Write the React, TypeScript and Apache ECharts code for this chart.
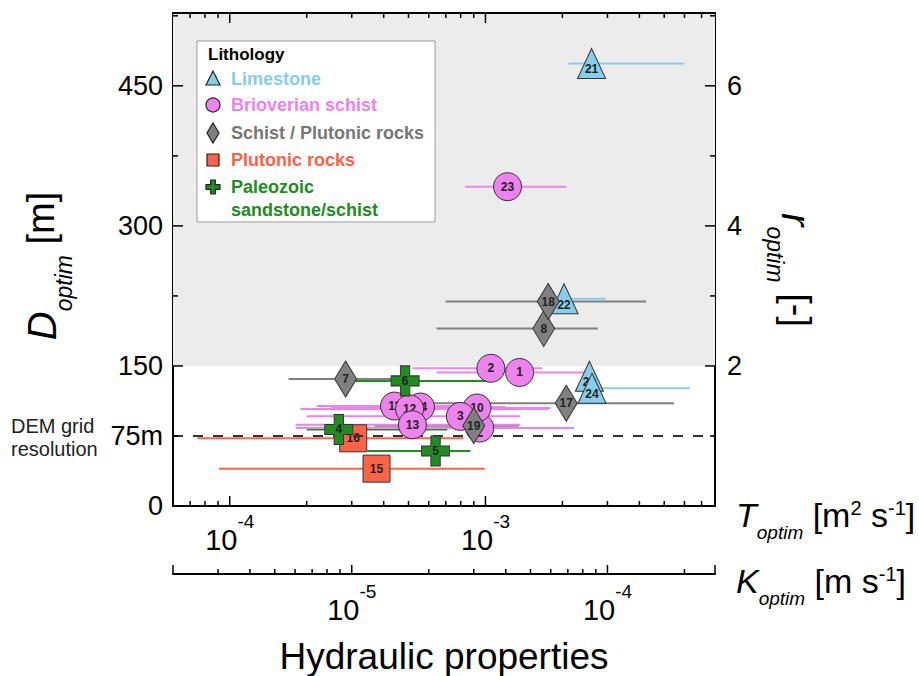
import React, { useEffect, useRef } from 'react';
import * as echarts from 'echarts';

const FONT = "'Liberation Sans', Arial, sans-serif";

// ---------- Data (T_optim [m2/s], D_optim [m], T error range) ----------
// Limestone (triangles)
const limeIds = ['20', '24', '21', '22'];
const limeT = [2.55e-3, 2.61e-3, 2.6e-3, 2.03e-3];
const limeD = [139, 126, 474, 222];
const limeLo = [2.45e-3, 2.25e-3, 2.11e-3, 1.6e-3];
const limeHi = [2.65e-3, 6.3e-3, 5.98e-3, 2.96e-3];

// Brioverian schist (circles)
const brioIds = ['9', '10', '11', '14', '3', '12', '13', '1', '2', '23'];
const brioT = [9.5e-4, 9.27e-4, 4.41e-4, 5.57e-4, 7.98e-4, 5.05e-4, 5.18e-4, 1.36e-3, 1.05e-3, 1.22e-3];
const brioD = [83.5, 105, 107, 106, 96, 104, 87, 143, 147.5, 342];
const brioLo = [1.81e-4, 2.6e-4, 2.19e-4, 2.48e-4, 2.0e-4, 1.89e-4, 1.81e-4, 6.44e-4, 5.18e-4, 8.32e-4];
const brioHi = [2.22e-3, 1.8e-3, 8.7e-4, 1.2e-3, 1.37e-3, 1.76e-3, 1.37e-3, 2.62e-3, 1.67e-3, 2.07e-3];

// Schist / Plutonic rocks (diamonds)
const schIds = ['7', '8', '17', '18', '19'];
const schT = [2.84e-4, 1.69e-3, 2.07e-3, 1.76e-3, 9.0e-4];
const schD = [136, 190, 110, 219, 86];
const schLo = [1.7e-4, 6.44e-4, 5.4e-4, 6.98e-4, 3.67e-4];
const schHi = [4.66e-4, 2.75e-3, 5.46e-3, 4.25e-3, 1.35e-3];

// Plutonic rocks (squares)
const plutIds = ['16', '15'];
const plutT = [3.04e-4, 3.75e-4];
const plutD = [72.5, 40];
const plutLo = [7.49e-5, 9.08e-5];
const plutHi = [8.2e-4, 9.93e-4];

// Paleozoic sandstone/schist (plus)
const paleoIds = ['4', '5', '6'];
const paleoT = [2.67e-4, 6.38e-4, 4.85e-4];
const paleoD = [82, 59, 134];
const paleoLo = [2.0e-4, 3.45e-4, 2.97e-4];
const paleoHi = [7.1e-4, 8.73e-4, 1.09e-3];

// ---------- Axes ----------
const T_MIN = 6e-5;
const T_MAX = 7.9e-3;
const THICKNESS = 30; // K = T / 30
const K_MIN = T_MIN / THICKNESS;
const K_MAX = T_MAX / THICKNESS;
const D_MAX = 528;
const R_SCALE = 75; // r = D / 75
const DEM_RES = 75;
const SHADE_FROM = 150;

const tMajorTicks = [1e-4, 1e-3];
const tMinorTicks = [7e-5, 8e-5, 9e-5, 2e-4, 3e-4, 4e-4, 5e-4, 6e-4, 7e-4, 8e-4, 9e-4, 2e-3, 3e-3, 4e-3, 5e-3, 6e-3, 7e-3];
const kMajorTicks = [K_MIN, 1e-5, 1e-4, K_MAX];
const kMinorTicks = [3e-6, 4e-6, 5e-6, 6e-6, 7e-6, 8e-6, 9e-6, 2e-5, 3e-5, 4e-5, 5e-5, 6e-5, 7e-5, 8e-5, 9e-5, 2e-4];
const dMajorTicks = [0, 150, 300, 450];
const dMinorTicks = [75, 225, 375, 525];
const rMajorTicks = [2, 4, 6];
const rMinorTicks = [1, 3, 5, 7];

const MAJOR = 10;
const MINOR = 5;
const K_OFFSET = 68;

const COL = {
  lime: '#87ceeb',
  brio: '#ee82ee',
  sch: '#808080',
  plut: '#ff6347',
  paleo: '#228b22',
};

const PLUS = 'path://M1,0H2V1H3V2H2V3H1V2H0V1H1Z';

const tickStyle = { stroke: '#000', lineWidth: 1.5 };

function errSeries(color: string, lo: number[], hi: number[], d: number[]) {
  return {
    type: 'custom',
    silent: true,
    z: 2,
    encode: { x: [0, 1], y: 2 },
    data: lo.map((l, i) => [l, hi[i], d[i]]),
    renderItem: (params: any, api: any) => {
      const a = api.coord([api.value(0), api.value(2)]);
      const b = api.coord([api.value(1), api.value(2)]);
      return {
        type: 'line',
        shape: { x1: a[0], y1: a[1], x2: b[0], y2: b[1] },
        style: { stroke: color, lineWidth: 2 },
      };
    },
  };
}

// markers drawn in layers (from index `from` to `to`) so that overlaps match
function markerSeries(
  ids: string[], t: number[], d: number[], from: number, to: number, z: number,
  color: string, symbol: string, size: number | number[], labelOffset: number[] = [0, 0]
) {
  return {
    type: 'scatter',
    silent: true,
    z,
    symbol,
    symbolSize: size,
    itemStyle: { color, borderColor: '#333', borderWidth: 1, opacity: 1 },
    emphasis: { disabled: true },
    label: {
      show: true,
      position: 'inside',
      offset: labelOffset,
      formatter: '{b}',
      color: '#222',
      fontSize: 12,
      fontWeight: 'bold',
      fontFamily: FONT,
    },
    data: ids.slice(from, to).map((id, i) => ({ name: id, value: [t[from + i], d[from + i]] })),
  };
}

const tTickData = [
  ...tMajorTicks.map((v) => [v, 0, MAJOR]),
  ...tMinorTicks.map((v) => [v, 0, MINOR]),
];
const kTickData = [
  ...kMajorTicks.map((v) => [v, 0, MAJOR - 1]),
  ...kMinorTicks.map((v) => [v, 0, MINOR]),
];
const dTickData = [
  ...dMajorTicks.map((v) => [T_MIN, v, MAJOR]),
  ...dMinorTicks.map((v) => [T_MIN, v, MINOR]),
];
const rTickData = [
  ...rMajorTicks.map((v) => [T_MIN, v, MAJOR]),
  ...rMinorTicks.map((v) => [T_MIN, v, MINOR]),
];

const expFormatter = (v: number) => {
  const e = Math.log10(v);
  const r = Math.round(e);
  return Math.abs(e - r) < 1e-6 ? `{base|10}{sup|${r}}` : '';
};

const expRich = {
  base: { fontSize: 29, lineHeight: 29, padding: [13, 0, 0, 0], verticalAlign: 'top', color: '#000', fontFamily: FONT },
  sup: { fontSize: 19, lineHeight: 19, verticalAlign: 'top', color: '#000', fontFamily: FONT },
};

const hRich = {
  i: { fontSize: 34, lineHeight: 38, fontStyle: 'italic', verticalAlign: 'top', fill: '#000', fontFamily: FONT },
  n: { fontSize: 34, lineHeight: 38, verticalAlign: 'top', fill: '#000', fontFamily: FONT },
  s: { fontSize: 19, lineHeight: 19, padding: [25, 0, 0, 0], fontStyle: 'italic', verticalAlign: 'top', fill: '#000', fontFamily: FONT },
  p: { fontSize: 20, lineHeight: 20, verticalAlign: 'top', fill: '#000', fontFamily: FONT },
};

const vRich = {
  i: { fontSize: 40, lineHeight: 44, fontStyle: 'italic', verticalAlign: 'top', fill: '#000', fontFamily: FONT },
  n: { fontSize: 38, lineHeight: 44, verticalAlign: 'top', fill: '#000', fontFamily: FONT },
  s: { fontSize: 23, lineHeight: 23, padding: [30, 0, 0, 0], fontStyle: 'italic', verticalAlign: 'top', fill: '#000', fontFamily: FONT },
};

function legendGraphics() {
  const x0 = 197, y0 = 41;
  const ix = 213, tx = 231;
  const Z = 50;
  const txt = (y: number, text: string, color: string) => ({
    type: 'text', x: tx, y, z: Z + 1, silent: true,
    style: { text, fill: color, font: `bold 18px ${FONT}`, verticalAlign: 'middle', align: 'left' },
  });
  const stroke = { stroke: '#222', lineWidth: 1.2 };
  return [
    { type: 'rect', z: Z, silent: true, shape: { x: x0, y: y0, width: 238, height: 181 }, style: { fill: '#fff', stroke: '#999', lineWidth: 1 } },
    { type: 'text', z: Z + 1, silent: true, x: 208, y: 54, style: { text: 'Lithology', fill: '#000', font: `bold 17px ${FONT}`, verticalAlign: 'middle', align: 'left' } },
    { type: 'polygon', z: Z + 1, silent: true, shape: { points: [[ix, 71], [ix + 7, 85], [ix - 7, 85]] }, style: { fill: COL.lime, ...stroke } },
    txt(79, 'Limestone', COL.lime),
    { type: 'circle', z: Z + 1, silent: true, shape: { cx: ix, cy: 105, r: 7 }, style: { fill: COL.brio, ...stroke } },
    txt(105, 'Brioverian schist', COL.brio),
    { type: 'polygon', z: Z + 1, silent: true, shape: { points: [[ix, 123], [ix + 6, 133], [ix, 143], [ix - 6, 133]] }, style: { fill: COL.sch, ...stroke } },
    txt(133, 'Schist / Plutonic rocks', '#777'),
    { type: 'rect', z: Z + 1, silent: true, shape: { x: ix - 6, y: 154, width: 12, height: 12 }, style: { fill: COL.plut, ...stroke } },
    txt(160, 'Plutonic rocks', COL.plut),
    { type: 'polygon', z: Z + 1, silent: true, shape: { points: [
      [ix - 2.3, 180], [ix + 2.3, 180], [ix + 2.3, 184.7], [ix + 7, 184.7], [ix + 7, 189.3], [ix + 2.3, 189.3],
      [ix + 2.3, 194], [ix - 2.3, 194], [ix - 2.3, 189.3], [ix - 7, 189.3], [ix - 7, 184.7], [ix - 2.3, 184.7],
    ] }, style: { fill: COL.paleo, ...stroke } },
    txt(187, 'Paleozoic', COL.paleo),
    txt(210, 'sandstone/schist', COL.paleo),
  ];
}

export default function App() {
  const ref = useRef<HTMLDivElement>(null);
  useEffect(() => {
    document.body.style.margin = '0';
    const chart = echarts.init(ref.current!, null, { renderer: 'svg' });
    const option: any = {
      animation: false,
      textStyle: { fontFamily: FONT },
      grid: { left: 173, top: 13, right: 204, bottom: 170, show: false },
      xAxis: [
        {
          type: 'log', logBase: 10, min: T_MIN, max: T_MAX, position: 'bottom',
          axisLine: { show: true, onZero: false, lineStyle: { color: '#000', width: 2 } },
          axisTick: { show: false }, splitLine: { show: false }, minorTick: { show: false },
          axisLabel: { interval: 0, margin: 6, fontSize: 29, color: '#000', formatter: expFormatter, rich: expRich, showMinLabel: false, showMaxLabel: false },
        },
        {
          type: 'log', logBase: 10, min: K_MIN, max: K_MAX, position: 'bottom', offset: K_OFFSET,
          axisLine: { show: true, onZero: false, lineStyle: { color: '#000', width: 2 } },
          axisTick: { show: false }, splitLine: { show: false },
          axisLabel: { interval: 0, margin: 8, fontSize: 29, color: '#000', formatter: expFormatter, rich: expRich, showMinLabel: false, showMaxLabel: false },
        },
      ],
      yAxis: [
        {
          type: 'value', min: 0, max: D_MAX, interval: 75, position: 'left',
          axisLine: { show: true, onZero: false, lineStyle: { color: '#000', width: 2 } },
          axisTick: { show: false }, splitLine: { show: false },
          axisLabel: {
            margin: 10, color: '#000', fontSize: 27, fontFamily: FONT, showMaxLabel: false,
            formatter: (v: number) => (v === 0 ? '0' : v === DEM_RES ? '75m' : v % 150 === 0 ? String(v) : ''),
          },
        },
        {
          type: 'value', min: 0, max: D_MAX / R_SCALE, interval: 1, position: 'right',
          axisLine: { show: true, onZero: false, lineStyle: { color: '#000', width: 2 } },
          axisTick: { show: false }, splitLine: { show: false },
          axisLabel: {
            margin: 12, color: '#000', fontSize: 27, fontFamily: FONT, showMaxLabel: false,
            formatter: (v: number) => (rMajorTicks.includes(v) ? String(v) : ''),
          },
        },
      ],
      series: [
        {
          type: 'scatter', data: [], silent: true, z: 0,
          markArea: {
            silent: true,
            itemStyle: { color: '#ececec' },
            data: [[{ yAxis: SHADE_FROM }, { yAxis: D_MAX }]],
          },
          markLine: {
            silent: true, symbol: ['none', 'none'], label: { show: false },
            lineStyle: { color: '#333', width: 2, type: [10, 10] },
            data: [{ yAxis: DEM_RES }],
          },
        },
        errSeries(COL.plut, plutLo, plutHi, plutD),
        errSeries(COL.paleo, paleoLo, paleoHi, paleoD),
        errSeries(COL.sch, schLo, schHi, schD),
        errSeries(COL.brio, brioLo, brioHi, brioD),
        errSeries(COL.lime, limeLo, limeHi, limeD),
        markerSeries(plutIds, plutT, plutD, 0, plutIds.length, 3, COL.plut, 'rect', 27),
        markerSeries(brioIds, brioT, brioD, 0, 4, 4, COL.brio, 'circle', 28),
        markerSeries(brioIds, brioT, brioD, 4, 6, 5, COL.brio, 'circle', 28),
        markerSeries(brioIds, brioT, brioD, 6, brioIds.length, 6, COL.brio, 'circle', 28),
        markerSeries(limeIds, limeT, limeD, 0, 1, 7, COL.lime, 'triangle', [28, 30], [0, 6]),
        markerSeries(limeIds, limeT, limeD, 1, limeIds.length, 8, COL.lime, 'triangle', [28, 30], [0, 6]),
        markerSeries(schIds, schT, schD, 0, schIds.length, 9, COL.sch, 'diamond', [22, 36]),
        markerSeries(paleoIds, paleoT, paleoD, 0, paleoIds.length, 10, COL.paleo, PLUS, [28, 30]),
        // ticks on T axis (bottom and top)
        {
          type: 'custom', silent: true, z: 12, xAxisIndex: 0, yAxisIndex: 0,
          data: tTickData,
          renderItem: (params: any, api: any) => {
            const cs = params.coordSys;
            const x = api.coord([api.value(0), 0])[0];
            const len = api.value(2);
            const yb = cs.y + cs.height, yt = cs.y;
            return {
              type: 'group', children: [
                { type: 'line', shape: { x1: x, y1: yb, x2: x, y2: yb - len }, style: tickStyle },
                { type: 'line', shape: { x1: x, y1: yt, x2: x, y2: yt + len }, style: tickStyle },
              ],
            };
          },
        },
        // top frame line
        {
          type: 'custom', silent: true, z: 12, xAxisIndex: 0, yAxisIndex: 0,
          data: [[T_MIN, D_MAX]],
          renderItem: (params: any) => {
            const cs = params.coordSys;
            return { type: 'line', shape: { x1: cs.x - 1, y1: cs.y, x2: cs.x + cs.width + 1, y2: cs.y }, style: { stroke: '#000', lineWidth: 2 } };
          },
        },
        // ticks on K axis
        {
          type: 'custom', silent: true, z: 12, xAxisIndex: 1, yAxisIndex: 0,
          data: kTickData,
          renderItem: (params: any, api: any) => {
            const cs = params.coordSys;
            const x = api.coord([api.value(0), 0])[0];
            const len = api.value(2);
            const yb = cs.y + cs.height + K_OFFSET;
            return { type: 'line', shape: { x1: x, y1: yb, x2: x, y2: yb - len }, style: tickStyle };
          },
        },
        // ticks on D axis (left)
        {
          type: 'custom', silent: true, z: 12, xAxisIndex: 0, yAxisIndex: 0,
          data: dTickData,
          renderItem: (params: any, api: any) => {
            const cs = params.coordSys;
            const y = api.coord([api.value(0), api.value(1)])[1];
            const len = api.value(2);
            return { type: 'line', shape: { x1: cs.x, y1: y, x2: cs.x + len, y2: y }, style: tickStyle };
          },
        },
        // ticks on r axis (right)
        {
          type: 'custom', silent: true, z: 12, xAxisIndex: 0, yAxisIndex: 1,
          data: rTickData,
          renderItem: (params: any, api: any) => {
            const cs = params.coordSys;
            const y = api.coord([api.value(0), api.value(1)])[1];
            const len = api.value(2);
            const xr = cs.x + cs.width;
            return { type: 'line', shape: { x1: xr, y1: y, x2: xr - len, y2: y }, style: tickStyle };
          },
        },
      ],
      graphic: [
        ...legendGraphics(),
        {
          type: 'text', x: 11, y: 437, silent: true,
          style: { text: 'DEM grid\nresolution', fill: '#222', font: `20px ${FONT}`, lineHeight: 23, verticalAlign: 'middle', align: 'left' },
        },
        {
          type: 'text', x: 44, y: 266, rotation: Math.PI / 2, silent: true,
          style: { text: '{i|D}{s|optim}{n| [m]}', rich: vRich, align: 'center', verticalAlign: 'middle' },
        },
        {
          type: 'text', x: 794, y: 270, rotation: -Math.PI / 2, silent: true,
          style: { text: '{i|r}{s|optim}{n| [-]}', rich: vRich, align: 'center', verticalAlign: 'middle' },
        },
        {
          type: 'text', x: 736, y: 517, silent: true,
          style: { text: '{i|T}{s|optim}{n| [m}{p|2}{n| s}{p|-1}{n|]}', rich: hRich, align: 'left', verticalAlign: 'middle' },
        },
        {
          type: 'text', x: 736, y: 583, silent: true,
          style: { text: '{i|K}{s|optim}{n| [m s}{p|-1}{n|]}', rich: hRich, align: 'left', verticalAlign: 'middle' },
        },
        {
          type: 'text', x: 444, y: 656, silent: true,
          style: { text: 'Hydraulic properties', fill: '#000', font: `37px ${FONT}`, align: 'center', verticalAlign: 'middle' },
        },
      ],
    };
    chart.setOption(option);
    return () => chart.dispose();
  }, []);
  return <div ref={ref} style={{ width: 919, height: 676 }} />;
}
